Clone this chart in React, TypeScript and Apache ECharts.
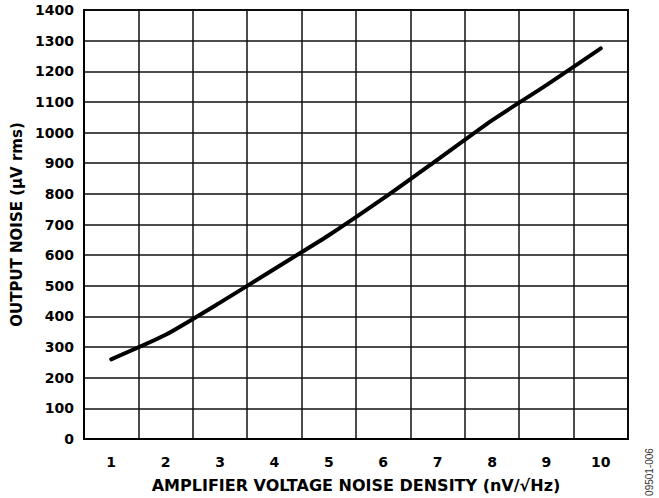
import React, { useEffect, useRef } from "react";
import * as echarts from "echarts";

const categories = ["1", "2", "3", "4", "5", "6", "7", "8", "9", "10"];
const outputNoise = [260, 340, 445, 555, 665, 785, 912, 1040, 1155, 1275];
const xTitle = "AMPLIFIER VOLTAGE NOISE DENSITY (nV/\u221AHz)";
const yTitle = "OUTPUT NOISE (\u00B5V rms)";
const figureCode = "09501-006";

const FONT = "DejaVu Sans, Liberation Sans, Arial, sans-serif";

export default function App() {
  const ref = useRef<HTMLDivElement>(null);
  useEffect(() => {
    if (!ref.current) return;
    const chart = echarts.init(ref.current, undefined, { renderer: "svg" });
    chart.setOption({
      animation: false,
      backgroundColor: "#ffffff",
      grid: {
        left: 84,
        right: 31,
        top: 10,
        bottom: 55,
        show: true,
        borderColor: "#000",
        borderWidth: 2,
        backgroundColor: "transparent",
      },
      xAxis: {
        type: "category",
        data: categories,
        boundaryGap: true,
        axisLine: { show: true, lineStyle: { color: "#000", width: 2 } },
        axisTick: { show: false },
        axisLabel: {
          color: "#000",
          fontFamily: FONT,
          fontWeight: "bold",
          fontSize: 14,
          margin: 16,
        },
        splitLine: { show: true, lineStyle: { color: "#111", width: 1.5 } },
        name: xTitle,
        nameLocation: "middle",
        nameGap: 38,
        nameTextStyle: {
          color: "#000",
          fontFamily: FONT,
          fontWeight: "bold",
          fontSize: 16,
        },
      },
      yAxis: {
        type: "value",
        min: 0,
        max: 1400,
        interval: 100,
        axisLine: { show: true, lineStyle: { color: "#000", width: 2 } },
        axisTick: { show: false },
        axisLabel: {
          color: "#000",
          fontFamily: FONT,
          fontWeight: "bold",
          fontSize: 14,
          margin: 10,
          formatter: (v: number) => String(v),
        },
        splitLine: { show: true, lineStyle: { color: "#111", width: 1.5 } },
        name: yTitle,
        nameLocation: "middle",
        nameGap: 56,
        nameTextStyle: {
          color: "#000",
          fontFamily: FONT,
          fontWeight: "bold",
          fontSize: 15,
        },
      },
      series: [
        {
          type: "line",
          data: outputNoise,
          smooth: 0.2,
          symbol: "none",
          lineStyle: { color: "#000", width: 4, cap: "round" },
        },
      ],
      graphic: [
        {
          type: "text",
          x: 649,
          y: 472,
          rotation: Math.PI / 2,
          style: {
            text: figureCode,
            fill: "#333",
            font: "10px Liberation Sans, Arial, sans-serif",
            textAlign: "center",
            textVerticalAlign: "middle",
          },
        },
      ],
    });
    return () => chart.dispose();
  }, []);
  return (
    <div
      ref={ref}
      style={{ position: "fixed", left: 0, top: 0, width: 659, height: 498 }}
    />
  );
}
